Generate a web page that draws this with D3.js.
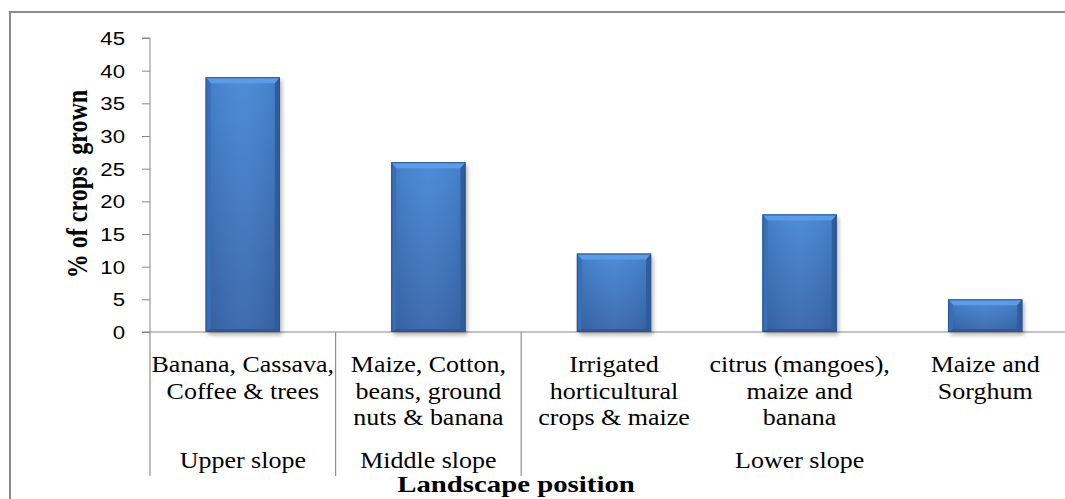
<!DOCTYPE html>
<html><head><meta charset="utf-8">
<script src="https://cdn.jsdelivr.net/npm/d3@7"></script>
<style>body{margin:0;background:#fff}svg{display:block}</style>
</head><body>
<script>
// ---- data ----
const categories = [
  ["Banana, Cassava,", "Coffee & trees"],
  ["Maize, Cotton,", "beans, ground", "nuts & banana"],
  ["Irrigated", "horticultural", "crops & maize"],
  ["citrus (mangoes),", "maize and", "banana"],
  ["Maize and", "Sorghum"]
];
const values = [39, 26, 12, 18, 5];
const groups = ["Upper slope", "Middle slope", "Lower slope", "Lower slope", "Lower slope"];
const yTicks = [0, 5, 10, 15, 20, 25, 30, 35, 40, 45];
const yTitle = "% of crops  grown";
const xTitle = "Landscape position";

// ---- layout ----
const W = 1065, H = 499;
const plotL = 150, plotR = 1078, plotT = 38, plotB = 332;
const sepBottom = 476;
const SX = 1.2; // horizontal text stretch

const svg = d3.select("body").append("svg").attr("width", W).attr("height", H);
const defs = svg.append("defs");
const grad = defs.append("linearGradient").attr("id", "barg").attr("x1", 0).attr("y1", 0).attr("x2", 0).attr("y2", 1);
grad.append("stop").attr("offset", "0%").attr("stop-color", "#4788d6");
grad.append("stop").attr("offset", "100%").attr("stop-color", "#3766ab");
const hgrad = defs.append("linearGradient").attr("id", "barh").attr("x1", 0).attr("y1", 0).attr("x2", 1).attr("y2", 0);
hgrad.append("stop").attr("offset", "0%").attr("stop-color", "#000").attr("stop-opacity", 0.08);
hgrad.append("stop").attr("offset", "50%").attr("stop-color", "#fff").attr("stop-opacity", 0.04);
hgrad.append("stop").attr("offset", "100%").attr("stop-color", "#000").attr("stop-opacity", 0.08);
const blur = defs.append("filter").attr("id", "shadow").attr("x", "-20%").attr("y", "-20%").attr("width", "140%").attr("height", "140%");
blur.append("feGaussianBlur").attr("stdDeviation", 2);

// frame
svg.append("rect").attr("x", 10).attr("y", 12).attr("width", 1100).attr("height", 520)
  .attr("fill", "none").attr("stroke", "#8a8a8a").attr("stroke-width", 2);

const x = d3.scaleBand().domain(d3.range(values.length)).range([plotL, plotR]).paddingInner(0.6).paddingOuter(0.3);
const y = d3.scaleLinear().domain([0, 45]).range([plotB, plotT]);
const step = x.step();

// y axis
const yAxis = svg.append("g").attr("transform", `translate(${plotL},0)`)
  .call(d3.axisLeft(y).tickValues(yTicks).tickSize(8).tickPadding(0).tickFormat(d3.format("d")));
yAxis.select(".domain").attr("stroke", "#878787").attr("d", `M0,${plotT}H-8M0,${plotT}V${plotB}`);
yAxis.selectAll(".tick line").attr("stroke", "#878787");
yAxis.selectAll(".tick text").remove();
yAxis.selectAll(".tick").append("text")
  .attr("transform", `translate(-25,0) scale(${SX},1)`)
  .attr("text-anchor", "end").attr("dy", "0.36em")
  .attr("fill", "#000")
  .style("font-family", "'Liberation Sans', Arial, sans-serif").style("font-size", "18.5px")
  .text(d => d);

// x axis line
svg.append("line").attr("x1", plotL - 8).attr("x2", plotR).attr("y1", y(0)).attr("y2", y(0))
  .attr("stroke", "#878787").attr("stroke-width", 1.2);

// group separators
const spans = [];
groups.forEach((g, i) => {
  if (i === 0 || g !== groups[i - 1]) spans.push({ name: g, start: i, end: i });
  else spans[spans.length - 1].end = i;
});
const boundaries = [0].concat(spans.map(s => s.end + 1));
svg.selectAll("line.sep").data(boundaries).enter().append("line").attr("class", "sep")
  .attr("x1", d => plotL + d * step).attr("x2", d => plotL + d * step)
  .attr("y1", y(0)).attr("y2", sepBottom)
  .attr("stroke", "#8f8f8f").attr("stroke-width", 1.2);

// bars
const bw = x.bandwidth();
const bars = svg.append("g");
values.forEach((v, i) => {
  const x0 = x(i), x1 = x(i) + bw, y0 = y(v), y1 = y(0);
  const g = bars.append("g");
  g.append("rect").attr("x", x0 + 2).attr("y", y0 + 3).attr("width", bw).attr("height", y1 - y0)
    .attr("fill", "#000").attr("opacity", 0.3).attr("filter", "url(#shadow)");
  g.append("rect").attr("x", x0).attr("y", y0).attr("width", bw).attr("height", y1 - y0)
    .attr("fill", "url(#barg)");
  g.append("rect").attr("x", x0).attr("y", y0).attr("width", bw).attr("height", y1 - y0)
    .attr("fill", "url(#barh)");
  const b = 5;
  g.append("path").attr("d", `M${x0},${y0}H${x1}L${x1 - b},${y0 + b + 1}H${x0 + b}Z`).attr("fill", "#5c9ce6");
  g.append("path").attr("d", `M${x0},${y0}L${x0 + b},${y0 + b + 1}V${y1 - 3}L${x0},${y1}Z`).attr("fill", "#3a6fb5");
  g.append("path").attr("d", `M${x1},${y0}L${x1 - b},${y0 + b + 1}V${y1 - 3}L${x1},${y1}Z`).attr("fill", "#2f5d9c");
  g.append("path").attr("d", `M${x0},${y1}L${x0 + b},${y1 - 3}H${x1 - b}L${x1},${y1}Z`).attr("fill", "#2f5a95");
  g.append("rect").attr("x", x0 + 0.5).attr("y", y0 + 0.5).attr("width", bw - 1).attr("height", y1 - y0 - 1)
    .attr("fill", "none").attr("stroke", "#2a5590").attr("stroke-width", 1);
});

// category labels
const serif = "'Liberation Serif', 'Times New Roman', Times, serif";
const catSX = 1.13;
categories.forEach((lines, i) => {
  const cx = x(i) + bw / 2;
  lines.forEach((ln, j) => {
    svg.append("text")
      .attr("transform", `translate(${cx},${372 + j * 26.5}) scale(${catSX},1)`)
      .attr("text-anchor", "middle")
      .attr("font-family", serif).attr("font-size", 23).attr("fill", "#000")
      .text(ln);
  });
});

// group labels
spans.forEach(s => {
  const cx = plotL + ((s.start + s.end + 1) / 2) * step;
  svg.append("text")
    .attr("transform", `translate(${cx},468) scale(${catSX},1)`)
    .attr("text-anchor", "middle")
    .attr("font-family", serif).attr("font-size", 23).attr("fill", "#000")
    .text(s.name);
});

// axis titles
svg.append("text")
  .attr("transform", `translate(516,492) scale(${SX},1)`)
  .attr("text-anchor", "middle")
  .attr("font-family", serif).attr("font-size", 24).attr("font-weight", "bold").attr("fill", "#000")
  .text(xTitle);

svg.append("text")
  .attr("transform", `translate(87,184) rotate(-90) scale(1,${SX})`)
  .attr("text-anchor", "middle")
  .attr("font-family", serif).attr("font-size", 24).attr("font-weight", "bold")
  .style("white-space", "pre").attr("fill", "#000")
  .text(yTitle);
</script>
</body></html>
